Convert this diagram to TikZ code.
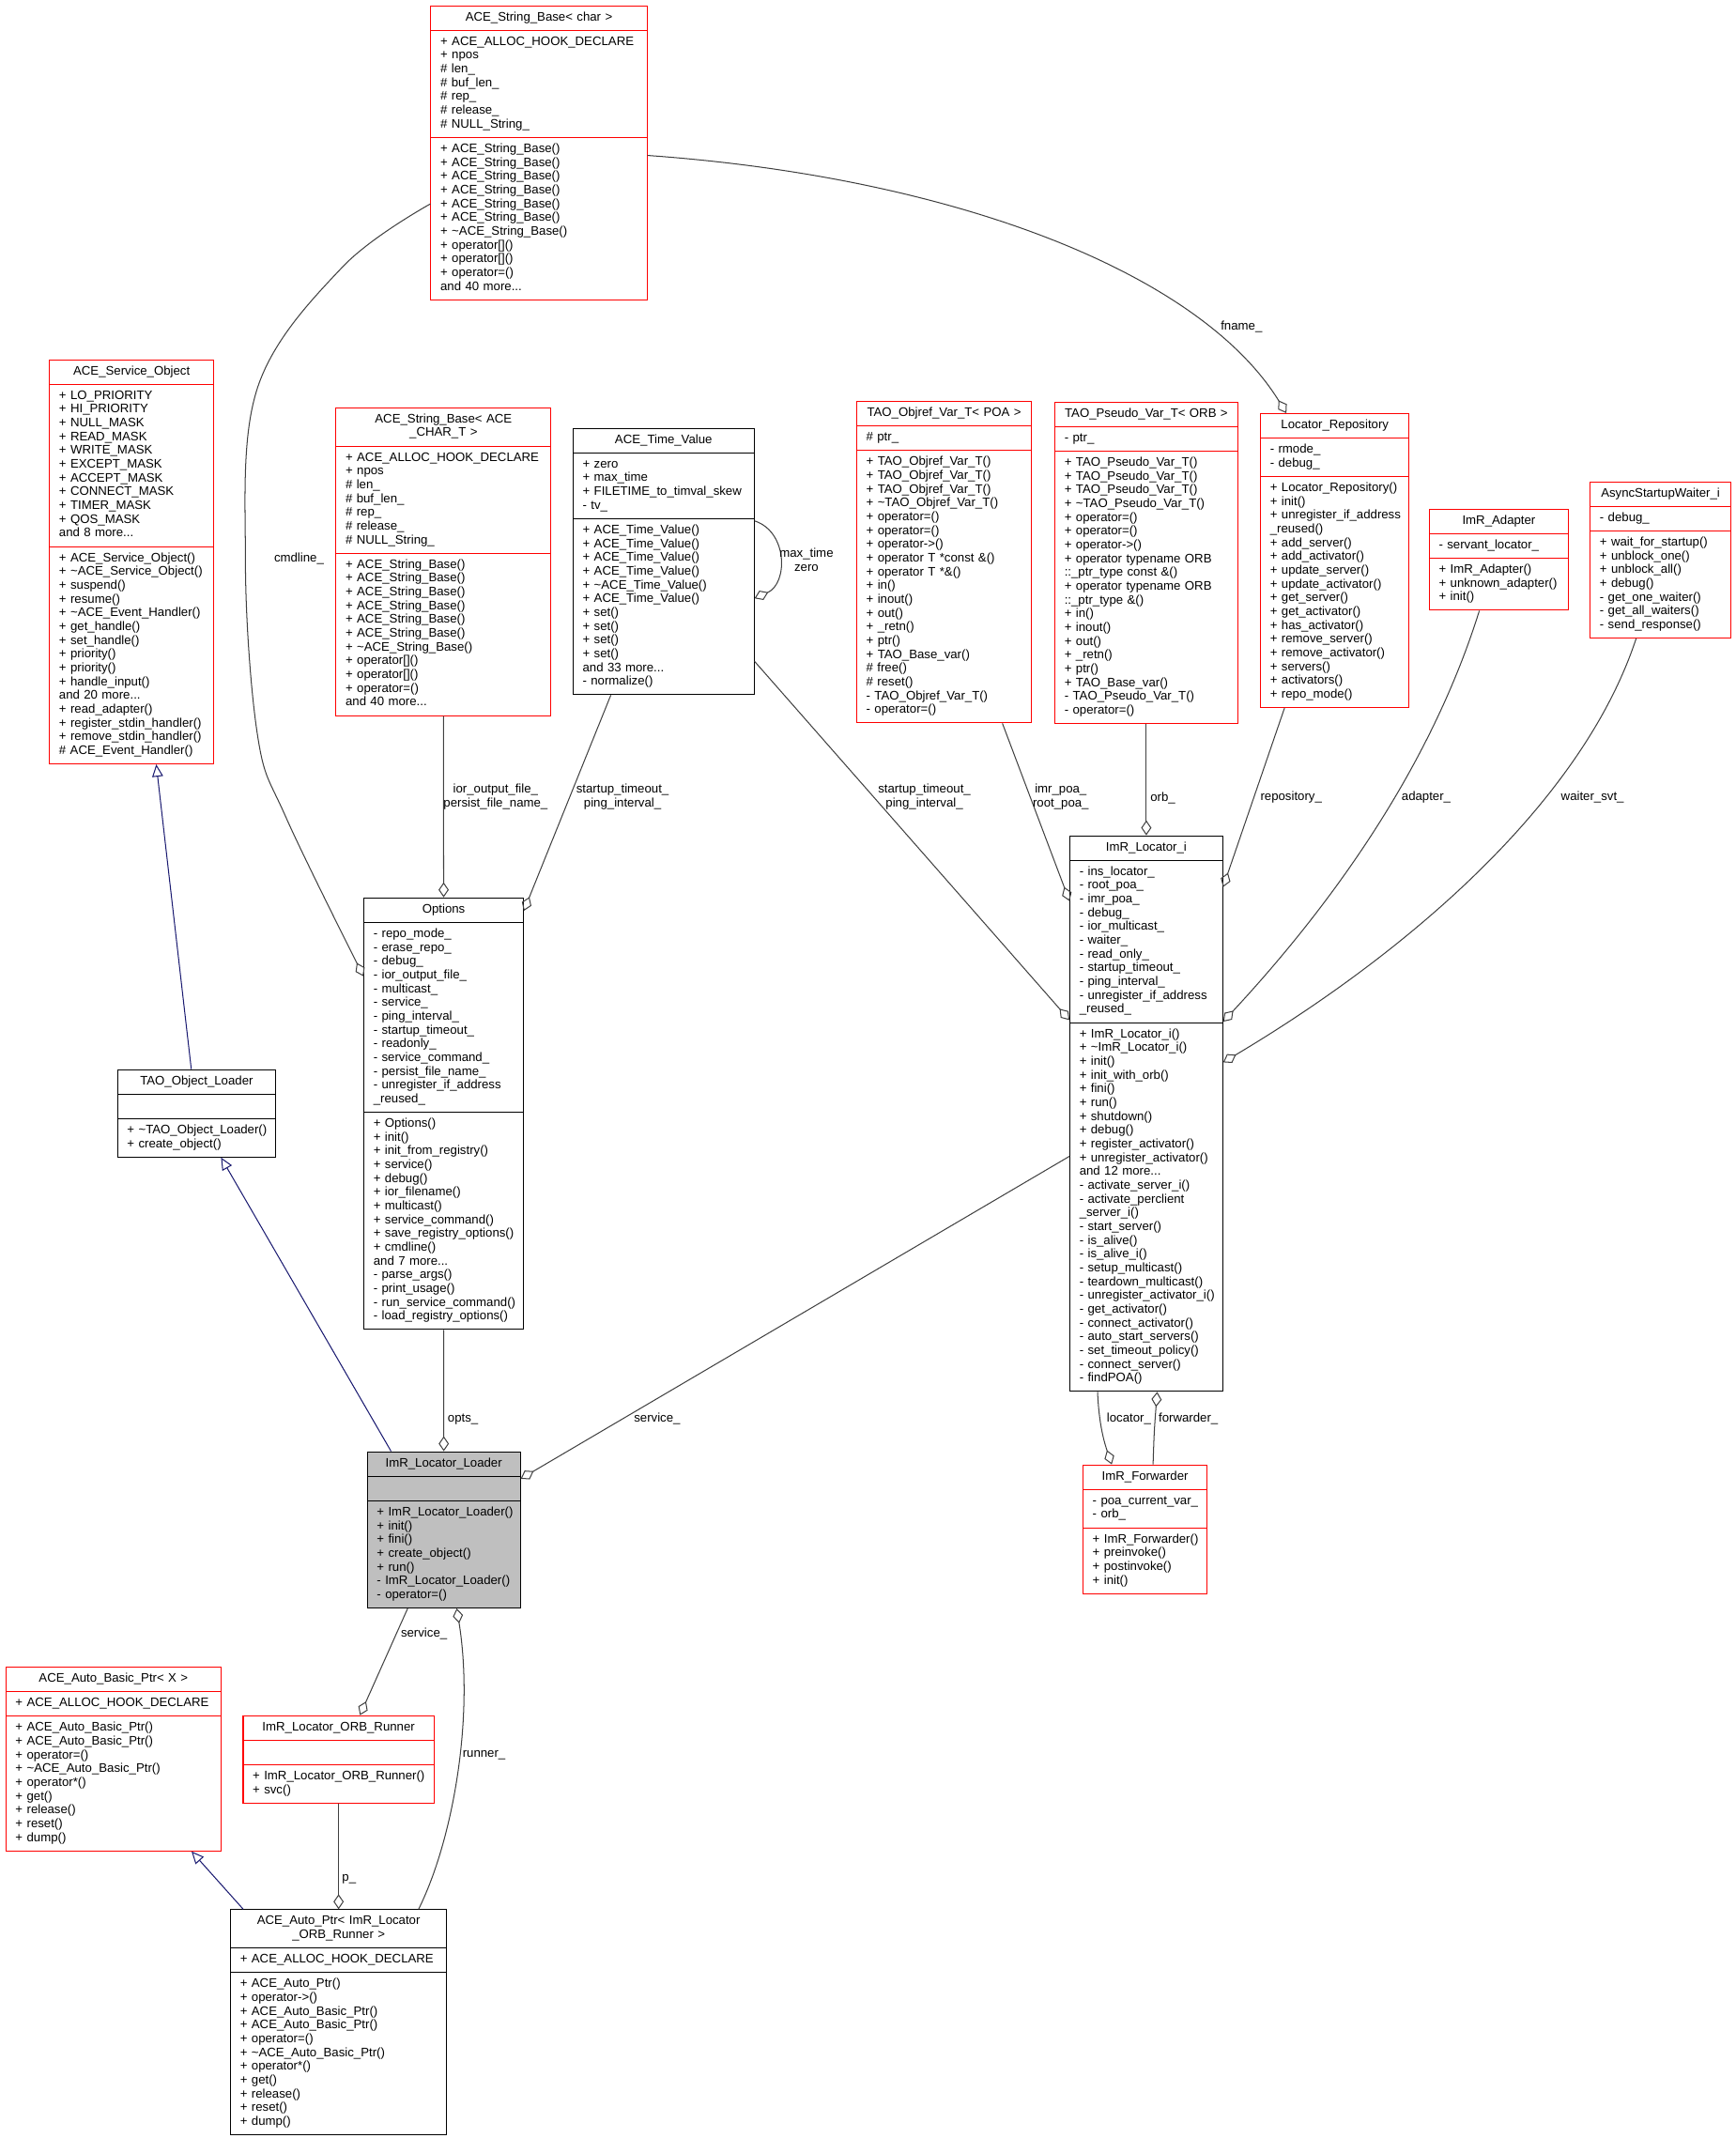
\documentclass[tikz,border=0pt]{standalone}
\usepackage{fontspec}
\setmainfont{Liberation Sans}
\usetikzlibrary{shapes.multipart,arrows.meta}
\definecolor{edgec}{HTML}{404040}
\definecolor{inhc}{HTML}{191970}
\definecolor{umlred}{HTML}{FF0000}
\definecolor{selgray}{HTML}{BFBFBF}
\newcommand\clsfont{\fontsize{9.1}{10.1}\selectfont}
\newcommand\cl[1]{\begin{tabular}{@{}l@{}}#1\end{tabular}}
\newcommand\ct[1]{\hbox to \hsize{\hss\begin{tabular}{@{}c@{}}#1\end{tabular}\hss}}
\newcommand\tildech{\textasciitilde}
\newcommand\umlclass[8]{\node[#1, text width=#5pt] (#2) at (#3,#4) {\ct{#6}\nodepart{two}\cl{#7}\nodepart{three}\cl{#8}};}
\tikzset{
 cls/.style={rectangle split, rectangle split parts=3, draw=umlred, line width=0.7pt, inner xsep=7pt, inner ysep=3.6pt, align=left, anchor=north west, font=\clsfont, fill=white},
 bcls/.style={cls, draw=black},
 rcls/.style={cls, draw=umlred},
 agg/.style={draw=edgec, line width=0.7pt, -{Diamond[open, length=11pt, width=7.5pt, line width=0.7pt]}},
 inh/.style={draw=inhc, line width=0.7pt, -{Triangle[open, length=9pt, width=8pt, line width=0.7pt]}},
 lbl/.style={font=\clsfont, inner sep=0pt, align=center},
}
\begin{document}
\begin{tikzpicture}[x=1pt, y=-1pt]
\path[use as bounding box, fill=white] (0,0) rectangle (1273,1568);
% classes
\umlclass{rcls}{sbc}{315.7}{3.9}{144.5}{ACE\_String\_Base< char >}{+ ACE\_ALLOC\_HOOK\_DECLARE\\+ npos\\\# len\_\\\# buf\_len\_\\\# rep\_\\\# release\_\\\# NULL\_String\_}{+ ACE\_String\_Base()\\+ ACE\_String\_Base()\\+ ACE\_String\_Base()\\+ ACE\_String\_Base()\\+ ACE\_String\_Base()\\+ ACE\_String\_Base()\\+ \tildech ACE\_String\_Base()\\+ operator[]()\\+ operator[]()\\+ operator=()\\and 40 more...}
\umlclass{rcls}{sobj}{36}{263.5}{106.4}{ACE\_Service\_Object}{+ LO\_PRIORITY\\+ HI\_PRIORITY\\+ NULL\_MASK\\+ READ\_MASK\\+ WRITE\_MASK\\+ EXCEPT\_MASK\\+ ACCEPT\_MASK\\+ CONNECT\_MASK\\+ TIMER\_MASK\\+ QOS\_MASK\\and 8 more...}{+ ACE\_Service\_Object()\\+ \tildech ACE\_Service\_Object()\\+ suspend()\\+ resume()\\+ \tildech ACE\_Event\_Handler()\\+ get\_handle()\\+ set\_handle()\\+ priority()\\+ priority()\\+ handle\_input()\\and 20 more...\\+ read\_adapter()\\+ register\_stdin\_handler()\\+ remove\_stdin\_handler()\\\# ACE\_Event\_Handler()}
\umlclass{rcls}{sbt}{246.1}{298.7}{143.6}{ACE\_String\_Base< ACE\\\_CHAR\_T >}{+ ACE\_ALLOC\_HOOK\_DECLARE\\+ npos\\\# len\_\\\# buf\_len\_\\\# rep\_\\\# release\_\\\# NULL\_String\_}{+ ACE\_String\_Base()\\+ ACE\_String\_Base()\\+ ACE\_String\_Base()\\+ ACE\_String\_Base()\\+ ACE\_String\_Base()\\+ ACE\_String\_Base()\\+ \tildech ACE\_String\_Base()\\+ operator[]()\\+ operator[]()\\+ operator=()\\and 40 more...}
\umlclass{bcls}{tv}{420}{313.7}{118.7}{ACE\_Time\_Value}{+ zero\\+ max\_time\\+ FILETIME\_to\_timval\_skew\\- tv\_}{+ ACE\_Time\_Value()\\+ ACE\_Time\_Value()\\+ ACE\_Time\_Value()\\+ ACE\_Time\_Value()\\+ \tildech ACE\_Time\_Value()\\+ ACE\_Time\_Value()\\+ set()\\+ set()\\+ set()\\+ set()\\and 33 more...\\- normalize()}
\umlclass{rcls}{tov}{628}{294}{114.2}{TAO\_Objref\_Var\_T< POA >}{\# ptr\_}{+ TAO\_Objref\_Var\_T()\\+ TAO\_Objref\_Var\_T()\\+ TAO\_Objref\_Var\_T()\\+ \tildech TAO\_Objref\_Var\_T()\\+ operator=()\\+ operator=()\\+ operator->()\\+ operator T *const \&()\\+ operator T *\&()\\+ in()\\+ inout()\\+ out()\\+ \_retn()\\+ ptr()\\+ TAO\_Base\_var()\\\# free()\\\# reset()\\- TAO\_Objref\_Var\_T()\\- operator=()}
\umlclass{rcls}{tp}{773.4}{294.6}{120}{TAO\_Pseudo\_Var\_T< ORB >}{- ptr\_}{+ TAO\_Pseudo\_Var\_T()\\+ TAO\_Pseudo\_Var\_T()\\+ TAO\_Pseudo\_Var\_T()\\+ \tildech TAO\_Pseudo\_Var\_T()\\+ operator=()\\+ operator=()\\+ operator->()\\+ operator typename ORB\\::\_ptr\_type const \&()\\+ operator typename ORB\\::\_ptr\_type \&()\\+ in()\\+ inout()\\+ out()\\+ \_retn()\\+ ptr()\\+ TAO\_Base\_var()\\- TAO\_Pseudo\_Var\_T()\\- operator=()}
\umlclass{rcls}{lr}{924.2}{303}{95}{Locator\_Repository}{- rmode\_\\- debug\_}{+ Locator\_Repository()\\+ init()\\+ unregister\_if\_address\\\_reused()\\+ add\_server()\\+ add\_activator()\\+ update\_server()\\+ update\_activator()\\+ get\_server()\\+ get\_activator()\\+ has\_activator()\\+ remove\_server()\\+ remove\_activator()\\+ servers()\\+ activators()\\+ repo\_mode()}
\umlclass{rcls}{ada}{1048}{373}{88}{ImR\_Adapter}{- servant\_locator\_}{+ ImR\_Adapter()\\+ unknown\_adapter()\\+ init()}
\umlclass{rcls}{asw}{1166}{353}{89}{AsyncStartupWaiter\_i}{- debug\_}{+ wait\_for\_startup()\\+ unblock\_one()\\+ unblock\_all()\\+ debug()\\- get\_one\_waiter()\\- get\_all\_waiters()\\- send\_response()}
\umlclass{bcls}{tol}{85.9}{784.1}{101.9}{TAO\_Object\_Loader}{\strut}{+ \tildech TAO\_Object\_Loader()\\+ create\_object()}
\umlclass{bcls}{opt}{266.6}{658.1}{102.9}{Options}{- repo\_mode\_\\- erase\_repo\_\\- debug\_\\- ior\_output\_file\_\\- multicast\_\\- service\_\\- ping\_interval\_\\- startup\_timeout\_\\- readonly\_\\- service\_command\_\\- persist\_file\_name\_\\- unregister\_if\_address\\\_reused\_}{+ Options()\\+ init()\\+ init\_from\_registry()\\+ service()\\+ debug()\\+ ior\_filename()\\+ multicast()\\+ service\_command()\\+ save\_registry\_options()\\+ cmdline()\\and 7 more...\\- parse\_args()\\- print\_usage()\\- run\_service\_command()\\- load\_registry\_options()}
\umlclass{bcls}{loc}{784.4}{612.6}{98}{ImR\_Locator\_i}{- ins\_locator\_\\- root\_poa\_\\- imr\_poa\_\\- debug\_\\- ior\_multicast\_\\- waiter\_\\- read\_only\_\\- startup\_timeout\_\\- ping\_interval\_\\- unregister\_if\_address\\\_reused\_}{+ ImR\_Locator\_i()\\+ \tildech ImR\_Locator\_i()\\+ init()\\+ init\_with\_orb()\\+ fini()\\+ run()\\+ shutdown()\\+ debug()\\+ register\_activator()\\+ unregister\_activator()\\and 12 more...\\- activate\_server\_i()\\- activate\_perclient\\\_server\_i()\\- start\_server()\\- is\_alive()\\- is\_alive\_i()\\- setup\_multicast()\\- teardown\_multicast()\\- unregister\_activator\_i()\\- get\_activator()\\- connect\_activator()\\- auto\_start\_servers()\\- set\_timeout\_policy()\\- connect\_server()\\- findPOA()}
\umlclass{bcls, fill=selgray}{ldr}{269.1}{1064.3}{98.1}{ImR\_Locator\_Loader}{\strut}{+ ImR\_Locator\_Loader()\\+ init()\\+ fini()\\+ create\_object()\\+ run()\\- ImR\_Locator\_Loader()\\- operator=()}
\umlclass{rcls}{fwd}{794}{1074}{77}{ImR\_Forwarder}{- poa\_current\_var\_\\- orb\_}{+ ImR\_Forwarder()\\+ preinvoke()\\+ postinvoke()\\+ init()}
\umlclass{rcls}{abp}{4}{1222.3}{143.7}{ACE\_Auto\_Basic\_Ptr< X >}{+ ACE\_ALLOC\_HOOK\_DECLARE}{+ ACE\_Auto\_Basic\_Ptr()\\+ ACE\_Auto\_Basic\_Ptr()\\+ operator=()\\+ \tildech ACE\_Auto\_Basic\_Ptr()\\+ operator*()\\+ get()\\+ release()\\+ reset()\\+ dump()}
\umlclass{rcls}{run}{178}{1257.9}{126}{ImR\_Locator\_ORB\_Runner}{\strut}{+ ImR\_Locator\_ORB\_Runner()\\+ svc()}
\umlclass{bcls}{aptr}{168.8}{1400.2}{144.4}{ACE\_Auto\_Ptr< ImR\_Locator\\\_ORB\_Runner >}{+ ACE\_ALLOC\_HOOK\_DECLARE}{+ ACE\_Auto\_Ptr()\\+ operator->()\\+ ACE\_Auto\_Basic\_Ptr()\\+ ACE\_Auto\_Basic\_Ptr()\\+ operator=()\\+ \tildech ACE\_Auto\_Basic\_Ptr()\\+ operator*()\\+ get()\\+ release()\\+ reset()\\+ dump()}
% aggregation connectors
\draw[agg] plot[smooth, tension=0.6] coordinates {(sbc.west |- 0,149.5) (251,196) (189,284) (180,410) (189,540) (210,600) (opt.west |- 0,716)};
\draw[agg] (sbc.east |- 0,114) .. controls (700,130) and (880,200) .. (lr.north -| 943.5,0);
\draw[agg] (sbt.south) -- (opt.north);
\draw[agg] (tv.south -| 448,0) -- (opt.east |- 0,668);
\draw[agg] (tv.east |- 0,485) -- (loc.west |- 0,748.1);
\draw[agg] (tv.east |- 0,382) .. controls (578,390) and (578,428) .. (tv.east |- 0,438.8);
\draw[agg] (tov.south -| 735.2,0) -- (loc.west |- 0,660.8);
\draw[agg] (tp.south) -- (loc.north);
\draw[agg] (lr.south -| 942.1,0) -- (loc.east |- 0,650.5);
\draw[agg] (ada.south -| 1085,0) .. controls (1050,560) and (980,660) .. (loc.east |- 0,749.3);
\draw[agg] (asw.south -| 1200,0) .. controls (1160,590) and (1030,700) .. (loc.east |- 0,779.1);
\draw[agg] (opt.south) -- (ldr.north);
\draw[agg] (loc.west |- 0,848) -- (ldr.east |- 0,1084.5);
\draw[agg] (loc.south -| 805,0) .. controls (806,1045) and (810,1058) .. (fwd.north -| 815.4,0);
\draw[agg] (fwd.north -| 845.7,0) .. controls (846.5,1050) .. (loc.south -| 848.7,0);
\draw[agg] (ldr.south -| 299,0) -- (run.north -| 264,0);
\draw[agg] (run.south) -- (aptr.north);
\draw[agg] (aptr.north -| 307,0) .. controls (332,1350) and (348,1260) .. (ldr.south -| 335,0);
% inheritance
\draw[inh] (tol.north -| 140.3,0) -- (sobj.south -| 114.6,0);
\draw[inh] (ldr.north -| 286.8,0) -- (tol.south -| 162.1,0);
\draw[inh] (aptr.north -| 178.4,0) -- (abp.south -| 140.5,0);
% labels
\node[lbl] (l1) at (219.3,409.9) {cmdline\_};
\node[lbl] (l2) at (910.6,240) {fname\_};
\node[lbl] (l3) at (591.5,410.5) {max\_time\\zero};
\node[lbl] (l4) at (363.5,584.5) {ior\_output\_file\_\\persist\_file\_name\_};
\node[lbl] (l5) at (456.6,584.5) {startup\_timeout\_\\ping\_interval\_};
\node[lbl] (l6) at (678,584.5) {startup\_timeout\_\\ping\_interval\_};
\node[lbl] (l7) at (778,584.5) {imr\_poa\_\\root\_poa\_};
\node[lbl] (l8) at (852.9,585) {orb\_};
\node[lbl] (l9) at (947,584.5) {repository\_};
\node[lbl] (l10) at (1046,584.5) {adapter\_};
\node[lbl] (l11) at (1168,584.5) {waiter\_svt\_};
\node[lbl] (l12) at (339.6,1041) {opts\_};
\node[lbl] (l13) at (482,1040.5) {service\_};
\node[lbl] (l14) at (828,1040.4) {locator\_};
\node[lbl] (l15) at (871.6,1040.4) {forwarder\_};
\node[lbl] (l16) at (311,1198) {service\_};
\node[lbl] (l17) at (256,1378) {p\_};
\node[lbl] (l18) at (355,1287) {runner\_};
\end{tikzpicture}
\end{document}
